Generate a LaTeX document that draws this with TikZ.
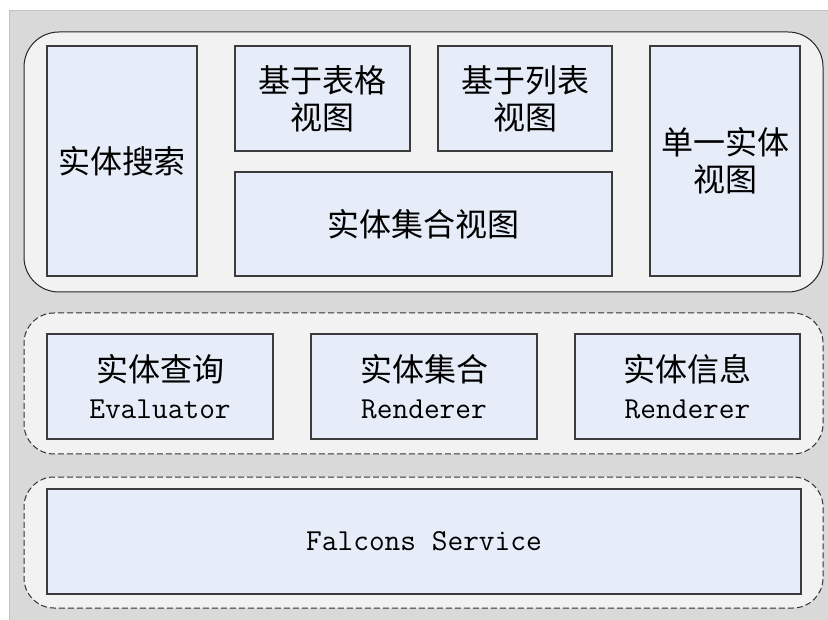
\documentclass[tikz,border=0pt]{standalone}
\usepackage{fontspec}
\newfontfamily\cjk{Noto Sans CJK SC}
\definecolor{bggray}{RGB}{217,217,217}
\definecolor{bgline}{RGB}{195,195,195}
\definecolor{panelfill}{RGB}{242,242,242}
\definecolor{boxfill}{RGB}{230,237,248}
\definecolor{boxline}{RGB}{60,60,60}
\tikzset{
  box/.style={draw=boxline, line width=1.1pt, fill=boxfill, align=center, inner sep=0pt,
    font=\fontsize{32}{37}\selectfont\cjk},
  panel/.style={draw=black!85, line width=1pt, fill=panelfill, inner sep=0pt},
  dpanel/.style={panel, draw=black!80, dash pattern=on 6pt off 3pt, line width=1pt}
}
\newcommand{\mono}[1]{{\fontsize{30.5}{36}\selectfont\ttfamily #1}}
\begin{document}
\begin{tikzpicture}[x=1pt,y=-1pt]
\useasboundingbox (0,0) rectangle (828,620);
\fill[bggray] (9,11) rectangle (828,620);
\draw[bgline, line width=1pt] (9,620) -- (9,11) -- (828,11);
% panels
\node[panel, rounded corners=35pt, minimum width=799pt, minimum height=260pt] (ptop) at (423.5,162) {};
\node[dpanel, rounded corners=30pt, minimum width=799pt, minimum height=141pt] (pmid) at (423.5,383.5) {};
\node[dpanel, rounded corners=30pt, minimum width=799pt, minimum height=131pt] (pbot) at (423.5,542.5) {};
% top boxes
\node[box, minimum width=150pt, minimum height=230pt] (search) at (122,161) {实体搜索};
\node[box, minimum width=175pt, minimum height=105pt] (table) at (322.5,98.5) {基于表格\\视图};
\node[box, minimum width=174pt, minimum height=105pt] (list) at (525,98.5) {基于列表\\视图};
\node[box, minimum width=377pt, minimum height=104pt] (coll) at (423.5,224) {实体集合视图};
\node[box, minimum width=150pt, minimum height=230pt] (single) at (725,161) {单一实体\\视图};
% middle boxes
\node[box, minimum width=226pt, minimum height=105pt] (query) at (160,386.5) {实体查询\\\mono{Evaluator}};
\node[box, minimum width=226pt, minimum height=105pt] (collr) at (424,386.5) {实体集合\\\mono{Renderer}};
\node[box, minimum width=225pt, minimum height=105pt] (info) at (687.5,386.5) {实体信息\\\mono{Renderer}};
% bottom box
\node[box, minimum width=754pt, minimum height=105pt] (falcons) at (424,541.5) {\mono{Falcons Service}};
\end{tikzpicture}
\end{document}
